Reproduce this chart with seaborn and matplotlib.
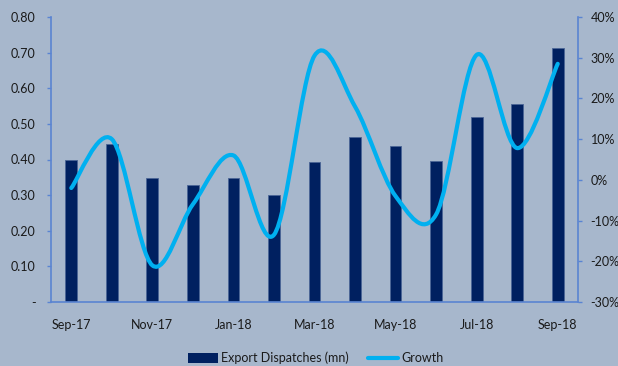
import numpy as np
import pandas as pd
import matplotlib
matplotlib.use("Agg")
import matplotlib.pyplot as plt
import seaborn as sns
from matplotlib.path import Path
from matplotlib.patches import PathPatch
from matplotlib.lines import Line2D
from matplotlib.patches import Patch
from matplotlib.ticker import FuncFormatter

# ---- data ----
months = ["Sep-17", "Oct-17", "Nov-17", "Dec-17", "Jan-18", "Feb-18", "Mar-18",
          "Apr-18", "May-18", "Jun-18", "Jul-18", "Aug-18", "Sep-18"]
dispatches = [0.40, 0.443, 0.347, 0.329, 0.347, 0.301, 0.393,
              0.464, 0.438, 0.396, 0.520, 0.555, 0.713]
growth = [-2.0, 10.0, -21.0, -6.0, 6.0, -13.5, 30.5,
          18.0, -4.0, -8.5, 30.7, 7.8, 28.5]
left_ticks = [0.0, 0.1, 0.2, 0.3, 0.4, 0.5, 0.6, 0.7, 0.8]
right_ticks = [-30, -20, -10, 0, 10, 20, 30, 40]
shown_labels = ["Sep-17", "Nov-17", "Jan-18", "Mar-18", "May-18", "Jul-18", "Sep-18"]

BG = "#a7b7cc"
NAVY = "#002060"
CYAN = "#00b0f0"
AXC = "#5a84d2"
TXT = "#1a1a1a"

sns.set_style("white")
plt.rcParams["font.family"] = ["Lato", "DejaVu Sans"]

fig = plt.figure(figsize=(6.18, 3.66), dpi=100, facecolor=BG)
ax = fig.add_axes([51/618, 1-302/366, (578-51)/618, (302-17)/366])
ax.set_facecolor(BG)

df = pd.DataFrame({"month": months, "val": dispatches})
sns.barplot(data=df, x="month", y="val", color=NAVY, width=0.29, saturation=1,
            edgecolor="#4a6496", linewidth=0.6, ax=ax)
ax.set_xlim(-0.5, len(months) - 0.5)
ax.set_ylim(0, 0.8)
ax.set_xlabel("")
ax.set_ylabel("")

ax.set_yticks(left_ticks)
ax.yaxis.set_major_formatter(FuncFormatter(lambda v, p: "-" if abs(v) < 1e-9 else f"{v:.2f}"))
ax.set_xticks([months.index(m) for m in shown_labels])
ax.set_xticklabels(shown_labels)
ax.set_xticks(np.arange(-0.5, len(months) - 1, 2), minor=True)
ax.tick_params(axis="x", which="major", length=0, pad=12, labelsize=9, colors=TXT)
ax.tick_params(axis="x", which="minor", length=4, width=1, color=AXC, direction="out")
ax.tick_params(axis="y", length=3, width=1, color=AXC, direction="out", pad=8,
               labelsize=9, labelcolor=TXT)

for s in ["top", "right"]:
    ax.spines[s].set_visible(False)
for s in ["left", "bottom"]:
    ax.spines[s].set_color(AXC)
    ax.spines[s].set_linewidth(1.2)

ax2 = ax.twinx()
ax2.set_ylim(-30, 40)
ax2.set_yticks(right_ticks)
ax2.yaxis.set_major_formatter(FuncFormatter(lambda v, p: f"{int(round(v))}%"))
ax2.tick_params(axis="y", length=3, width=1, color=AXC, direction="out", pad=6,
                labelsize=9, labelcolor=TXT)
for s in ["top", "left", "bottom"]:
    ax2.spines[s].set_visible(False)
ax2.spines["right"].set_color(AXC)
ax2.spines["right"].set_linewidth(1.2)

# smoothed line (Excel-style Bezier through the data points)
xs = np.arange(len(growth), dtype=float)
ys = np.array(growth, dtype=float)
verts = [(xs[0], ys[0])]
codes = [Path.MOVETO]
n = len(xs)
for i in range(n - 1):
    p0 = (xs[i - 1], ys[i - 1]) if i > 0 else (xs[i], ys[i])
    p1 = (xs[i], ys[i])
    p2 = (xs[i + 1], ys[i + 1])
    p3 = (xs[i + 2], ys[i + 2]) if i + 2 < n else (xs[i + 1], ys[i + 1])
    c1 = (p1[0] + (p2[0] - p0[0]) / 6, p1[1] + (p2[1] - p0[1]) / 6)
    c2 = (p2[0] - (p3[0] - p1[0]) / 6, p2[1] - (p3[1] - p1[1]) / 6)
    verts += [c1, c2, p2]
    codes += [Path.CURVE4] * 3
ax2.add_patch(PathPatch(Path(verts, codes), facecolor="none", edgecolor=CYAN,
                        lw=3, capstyle="round", joinstyle="round"))

handles = [Patch(facecolor=NAVY, edgecolor="none"),
           Line2D([0], [0], color=CYAN, lw=3)]
fig.legend(handles, ["Export Dispatches (mn)", "Growth"], loc="center",
           bbox_to_anchor=(0.511, 0.022), ncol=2, frameon=False, fontsize=9,
           handlelength=2.4, handleheight=0.8, handletextpad=0.3, columnspacing=1.5,
           labelcolor=TXT)

fig.savefig("out.png", dpi=100, facecolor=BG)
